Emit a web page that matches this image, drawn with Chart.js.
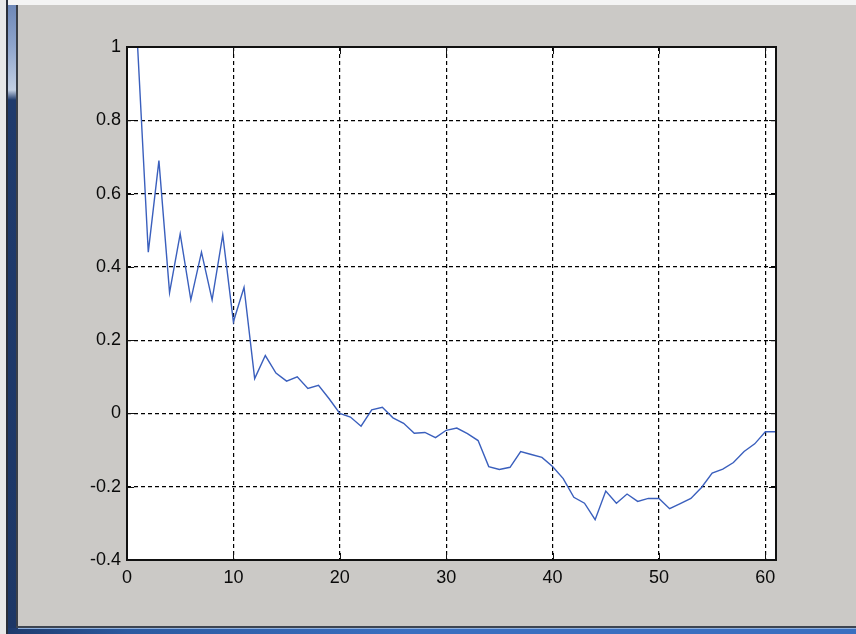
<!DOCTYPE html>
<html>
<head>
<meta charset="utf-8">
<script src="https://cdn.jsdelivr.net/npm/chart.js@4"></script>
<style>
  html, body { margin: 0; padding: 0; }
  body { width: 856px; height: 634px; position: relative; overflow: hidden; background: #cbc9c6; }
  #topEdge { position: absolute; left: 0; top: 0; width: 856px; height: 5px; background: #f4f4f4; }
  #leftLight { position: absolute; left: 0; top: 0; width: 6px; height: 634px; background: #e8e8e8; }
  #leftDark { position: absolute; left: 6px; top: 0; width: 2px; height: 634px; background: #2a2f3a; }
  #leftBar { position: absolute; left: 8px; top: 5px; width: 8px; height: 629px;
    background: linear-gradient(to bottom, #6e88b8 0px, #8ea4cc 40px, #c2cfe3 85px, #1f3a6c 95px, #1d3766 634px); }
  #leftLine { position: absolute; left: 16px; top: 5px; width: 2px; height: 629px; background: #3a3f48; }
  #bottomLine { position: absolute; left: 16px; top: 626px; width: 840px; height: 2px; background: #3d4450; }
  #bottomBar { position: absolute; left: 8px; top: 628px; width: 848px; height: 6px;
    background: linear-gradient(to right, #1e3a6c 0px, #2c5aa0 120px, #3a6fc0 400px, #3a6fc0 856px); }
  #bottomHi { position: absolute; left: 18px; top: 628px; width: 838px; height: 1px; background: #8fb0de; }
  #wrap { position: absolute; left: 0; top: 0; width: 856px; height: 634px; }
</style>
</head>
<body>
<div id="topEdge"></div>
<div id="leftLight"></div>
<div id="leftDark"></div>
<div id="leftBar"></div>
<div id="leftLine"></div>
<div id="bottomLine"></div>
<div id="bottomBar"></div>
<div id="bottomHi"></div>
<div id="wrap"><canvas id="c" width="856" height="634"></canvas></div>
<script>
// Sample index (1..61) and the measured series
const sampleIndex = [
  1, 2, 3, 4, 5, 6, 7, 8, 9, 10,
  11, 12, 13, 14, 15, 16, 17, 18, 19, 20,
  21, 22, 23, 24, 25, 26, 27, 28, 29, 30,
  31, 32, 33, 34, 35, 36, 37, 38, 39, 40,
  41, 42, 43, 44, 45, 46, 47, 48, 49, 50,
  51, 52, 53, 54, 55, 56, 57, 58, 59, 60, 61
];
const seriesValues = [
  1.0, 0.44, 0.69, 0.33, 0.49, 0.31, 0.44, 0.31, 0.487, 0.25,
  0.344, 0.095, 0.158, 0.11, 0.088, 0.10, 0.068, 0.077, 0.04, 0.0,
  -0.01, -0.035, 0.01, 0.017, -0.012, -0.027, -0.054, -0.052, -0.066, -0.046,
  -0.04, -0.055, -0.074, -0.145, -0.153, -0.147, -0.104, -0.112, -0.12, -0.145,
  -0.178, -0.229, -0.245, -0.29, -0.212, -0.245, -0.22, -0.24, -0.232, -0.232,
  -0.26, -0.246, -0.232, -0.202, -0.163, -0.152, -0.134, -0.104, -0.083, -0.05, -0.05
];
// Axis ranges and tick spacing
const xRange = [0, 61];
const xStep = 10;
const yRange = [-0.4, 1];
const yStep = 0.2;

const points = sampleIndex.map((x, i) => ({ x: x, y: seriesValues[i] }));

// Draws the closed axes box with inward-pointing tick marks on all four sides
const boxPlugin = {
  id: 'boxPlugin',
  afterDatasetsDraw(chart) {
    const ctx = chart.ctx;
    const a = chart.chartArea;
    const xs = chart.scales.x, ys = chart.scales.y;
    ctx.save();
    ctx.strokeStyle = '#111';
    ctx.lineWidth = 1;
    ctx.beginPath();
    xs.ticks.forEach(t => {
      const px = Math.round(xs.getPixelForValue(t.value)) + 0.5;
      ctx.moveTo(px, a.bottom); ctx.lineTo(px, a.bottom - 7);
      ctx.moveTo(px, a.top); ctx.lineTo(px, a.top + 7);
    });
    ys.ticks.forEach(t => {
      const py = Math.round(ys.getPixelForValue(t.value)) + 0.5;
      ctx.moveTo(a.left, py); ctx.lineTo(a.left + 7, py);
      ctx.moveTo(a.right, py); ctx.lineTo(a.right - 7, py);
    });
    ctx.stroke();
    ctx.lineWidth = 2;
    ctx.strokeRect(Math.round(a.left), Math.round(a.top), Math.round(a.right - a.left), Math.round(a.bottom - a.top));
    ctx.restore();
  }
};

const fontSpec = { family: "'Liberation Sans', Arial, sans-serif", size: 18 };

new Chart(document.getElementById('c'), {
  type: 'line',
  data: {
    datasets: [{
      data: points,
      borderColor: '#3a5fbd',
      borderWidth: 1.4,
      pointRadius: 0,
      tension: 0,
      fill: false
    }]
  },
  options: {
    responsive: false,
    animation: false,
    events: [],
    layout: { padding: { left: 0, top: 47, right: 80, bottom: 0 } },
    scales: {
      x: {
        type: 'linear',
        min: xRange[0], max: xRange[1],
        afterFit(scale) { scale.height = 74; },
        ticks: { stepSize: xStep, includeBounds: false, color: '#0a0a0a', font: fontSpec, padding: 7, maxRotation: 0 },
        grid: { color: '#000', lineWidth: 1.2, drawTicks: false },
        border: { display: false, dash: [4, 3] }
      },
      y: {
        type: 'linear',
        min: yRange[0], max: yRange[1],
        afterFit(scale) { scale.width = 127; },
        ticks: { stepSize: yStep, color: '#0a0a0a', font: fontSpec, padding: 6,
          callback: v => String(Math.round(v * 10) / 10) },
        grid: { color: '#000', lineWidth: 1.2, drawTicks: false },
        border: { display: false, dash: [4, 3] }
      }
    },
    plugins: { legend: { display: false }, tooltip: { enabled: false } }
  },
  plugins: [{
    id: 'plotBg',
    beforeDraw(chart) {
      const a = chart.chartArea, ctx = chart.ctx;
      ctx.save();
      ctx.fillStyle = '#ffffff';
      ctx.fillRect(a.left, a.top, a.right - a.left, a.bottom - a.top);
      ctx.restore();
    }
  }, boxPlugin]
});
</script>
</body>
</html>
